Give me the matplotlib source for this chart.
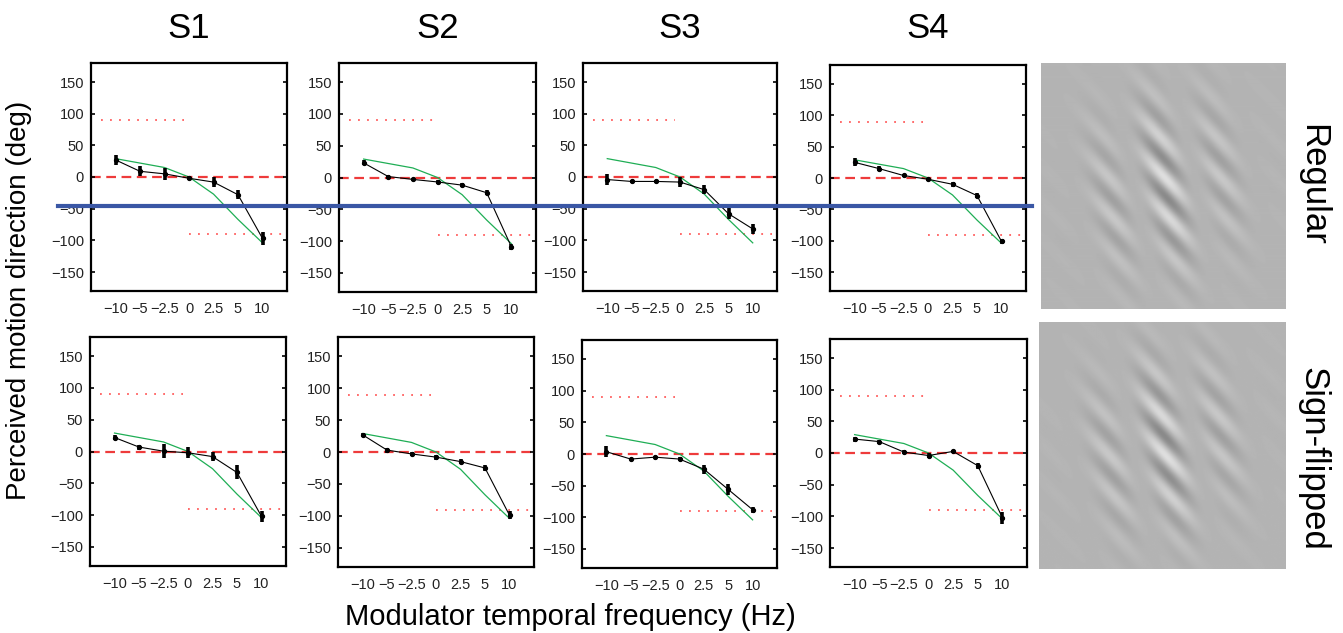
import numpy as np
import matplotlib
matplotlib.use('Agg')
import matplotlib.pyplot as plt
from matplotlib.transforms import blended_transform_factory
from matplotlib.lines import Line2D

plt.rcParams['font.family'] = ['Liberation Sans', 'DejaVu Sans']
plt.rcParams['lines.scale_dashes'] = False

# ---- data ----
freq_labels = ['\u221210', '\u22125', '\u22122.5', '0', '2.5', '5', '10']
subjects = ['S1', 'S2', 'S3', 'S4']
conditions = ['Regular', 'Sign-flipped']
model = [29, 22, 15, 0, -27, -67, -104]

s1_reg = [27, 9, 5, -2, -8, -28, -97]
s1_reg_err = [8, 8, 10, 3, 8, 7, 10]
s2_reg = [23, 1.5, -3, -7, -12, -24, -109]
s2_reg_err = [4, 3, 3, 3, 3, 4, 5]
s3_reg = [-4, -7, -7, -8, -20, -58, -82]
s3_reg_err = [9, 2, 2, 8.5, 7, 9, 8]
s4_reg = [25, 15, 4, -2, -10, -28, -101]
s4_reg_err = [6.5, 4, 3, 2, 4, 4, 4]

s1_flip = [22, 7, 0.5, -2, -8, -33, -102]
s1_flip_err = [4.5, 4, 11, 9, 7.5, 11, 9]
s2_flip = [27, 3, -3, -8, -15, -25, -99]
s2_flip_err = [3, 4, 3, 4, 4, 4, 6]
s3_flip = [3.6, -8, -5, -8, -24, -56, -88]
s3_flip_err = [9, 2, 2, 3, 7, 9, 5]
s4_flip = [22, 18, 1.5, -4, 2.5, -20, -102]
s4_flip_err = [4, 3, 3, 4, 2, 5, 9.5]

reg_means = [s1_reg, s2_reg, s3_reg, s4_reg]
reg_errs = [s1_reg_err, s2_reg_err, s3_reg_err, s4_reg_err]
flip_means = [s1_flip, s2_flip, s3_flip, s4_flip]
flip_errs = [s1_flip_err, s2_flip_err, s3_flip_err, s4_flip_err]

veridical = 90      # dotted reference levels
regular_line = -45  # blue line across the top row

# ---- layout (pixels) ----
W, H = 1343, 633
top_boxes = [(91, 63, 287, 291), (339, 63, 536, 292), (583, 63, 777, 291), (830, 65, 1026, 291)]
bot_boxes = [(90, 337, 286, 566), (338, 337, 534, 567), (582, 340, 777, 568), (830, 339, 1027, 567)]
img_boxes = [(1041, 63, 1286, 309), (1039, 322, 1286, 569)]


def rect(l, t, r, b):
    return [l / W, 1 - b / H, (r - l) / W, (b - t) / H]


fig = plt.figure(figsize=(W / 100, H / 100), dpi=100)
xpos = np.arange(1, len(freq_labels) + 1)


def panel(box, means, errs):
    ax = fig.add_axes(rect(*box))
    ax.set_xlim(0, 8)
    ax.set_ylim(-180, 180)
    ax.axhline(0, color='#ee3b3b', lw=1.6, ls=(0, (7, 4)), zorder=1)
    ax.plot([0.4, 3.8], [veridical, veridical], color='#ff6a6a', lw=1.4,
            ls=(0, (1.3, 5.2)), zorder=1)
    ax.plot([4.0, 7.8], [-veridical, -veridical], color='#ff6a6a', lw=1.4,
            ls=(0, (1.3, 5.2)), zorder=1)
    ax.plot(xpos, model, color='#1fae55', lw=0.9, zorder=2)
    ax.errorbar(xpos, means, yerr=errs, fmt='none', ecolor='k', elinewidth=2.6,
                capsize=0, zorder=3)
    ax.plot(xpos, means, color='k', lw=0.8, marker='o', ms=2.8, zorder=4)
    ax.set_xticks(xpos)
    ax.set_xticklabels(freq_labels)
    ax.set_yticks([-150, -100, -50, 0, 50, 100, 150])
    ax.set_yticklabels(['\u2212150', '\u2212100', '\u221250', '0', '50', '100', '150'])
    ax.tick_params(axis='y', direction='in', length=3, width=1.2, right=True,
                   labelsize=10.5, pad=5, colors='k', labelcolor='#222222')
    ax.tick_params(axis='x', length=0, labelsize=10.5, pad=8, labelcolor='#222222')
    for s in ax.spines.values():
        s.set_linewidth(1.6)
    return ax


top_axes = []
for i in range(4):
    top_axes.append(panel(top_boxes[i], reg_means[i], reg_errs[i]))
    panel(bot_boxes[i], flip_means[i], flip_errs[i])
    l, t, r, b = top_boxes[i]
    fig.text((l + r) / 2 / W, 1 - 38 / H, subjects[i], fontsize=25,
             ha='center', va='baseline')

# blue line spanning the top row
tr = blended_transform_factory(fig.transFigure, top_axes[0].transData)
fig.add_artist(Line2D([58 / W, 1032 / W], [regular_line, regular_line],
                      transform=tr, color='#3a57a5', lw=3.0, zorder=5))


# stimulus images (carrier grating under a drifting modulator)
def stimulus(n, flip):
    yy, xx = np.mgrid[-1:1:n * 1j, -1:1:n * 1j]
    xx = xx - 0.02
    env = np.exp(-(xx ** 2 / (2 * 0.38 ** 2) + yy ** 2 / (2 * 0.48 ** 2)))
    u = 0.7 * xx - 0.71 * yy
    carrier = np.sin(2 * np.pi * 4.7 * u + (np.pi if flip else 0.3))
    v = (xx - 0.2 * yy) / 1.02
    c = np.cos(2 * np.pi * v / 1.0)
    mod = c * np.abs(c)
    return 0.706 + 0.17 * env * carrier * mod


for j in range(2):
    axi = fig.add_axes(rect(*img_boxes[j]))
    axi.imshow(stimulus(245, j == 1), cmap='gray', vmin=0, vmax=1,
               interpolation='bilinear', aspect='auto')
    axi.axis('off')

fig.text(1313 / W, 1 - 185 / H, conditions[0], fontsize=25, rotation=-90,
         ha='center', va='center')
fig.text(1313 / W, 1 - 459 / H, conditions[1], fontsize=25, rotation=-90,
         ha='center', va='center')

fig.text(19 / W, 1 - 300 / H, 'Perceived motion direction (deg)', fontsize=20,
         rotation=90, ha='center', va='center')
fig.text(570 / W, 1 - 625 / H, 'Modulator temporal frequency (Hz)', fontsize=21,
         ha='center', va='baseline')

fig.savefig('out.png', dpi=100)
